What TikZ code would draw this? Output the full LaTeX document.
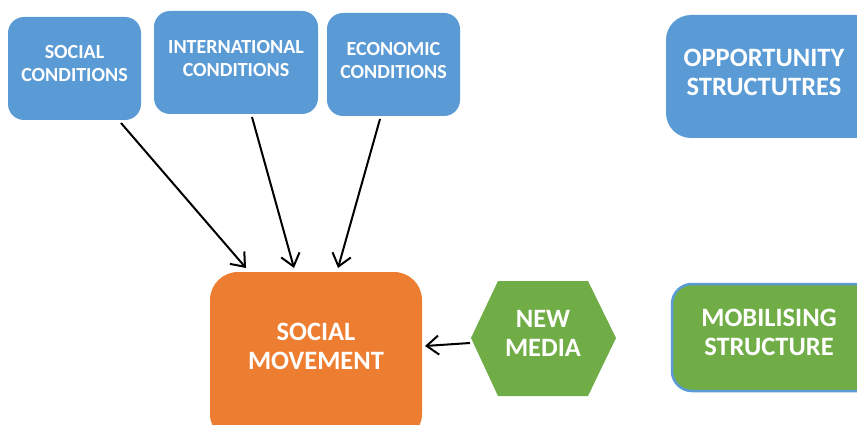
\documentclass[tikz,border=0pt]{standalone}
\usepackage{fontspec}
\setmainfont{Carlito}
\usetikzlibrary{arrows.meta}
\definecolor{cblue}{HTML}{5B9BD5}
\definecolor{corange}{HTML}{ED7D31}
\definecolor{cgreen}{HTML}{70AD47}
\begin{document}
\begin{tikzpicture}[x=1pt,y=-1pt,
  box/.style={fill=cblue,draw=none,rounded corners=16pt,inner sep=0pt},
  smalltxt/.style={text=white,align=center,font=\bfseries\fontsize{20}{23}\selectfont,inner sep=0pt},
  bigtxt/.style={text=white,align=center,font=\bfseries\fontsize{26.5}{29}\selectfont,inner sep=0pt},
  arr/.style={-{Straight Barb[length=12pt,width=19pt,line width=2pt]},line width=2pt,black}]
\clip (0,0) rectangle (857,425);
\fill[white] (0,0) rectangle (857,425);
% top boxes
\node[box,minimum width=133pt,minimum height=103pt] (sc) at (74.5,68.5) {};
\node[smalltxt] (sct) at (74.5,64) {SOCIAL\\CONDITIONS};
\node[box,minimum width=164pt,minimum height=103pt] (ic) at (236,62.5) {};
\node[smalltxt] (ict) at (236,58.5) {INTERNATIONAL\\CONDITIONS};
\node[box,minimum width=133pt,minimum height=103pt] (ec) at (393.5,64.5) {};
\node[smalltxt] (ect) at (393.5,60.5) {ECONOMIC\\CONDITIONS};
% opportunity
\node[box,rounded corners=25pt,minimum width=214pt,minimum height=123pt] (op) at (773,76.5) {};
\node[bigtxt] (opt) at (764,72) {OPPORTUNITY\\STRUCTUTRES};
% social movement
\node[fill=corange,draw=none,rounded corners=28pt,minimum width=212pt,minimum height=170pt,inner sep=0pt] (sm) at (316,357) {};
\node[bigtxt] (smt) at (316,346) {SOCIAL\\MOVEMENT};
% new media hexagon
\fill[cgreen] (471,338) -- (498,281) -- (588,281) -- (616,338) -- (588,396) -- (498,396) -- cycle;
\node[bigtxt] (nm) at (543,333.5) {NEW\\MEDIA};
% mobilising
\node[fill=cgreen,draw=cblue,line width=2.5pt,rounded corners=20pt,minimum width=208pt,minimum height=107pt,inner sep=0pt] (mb) at (776,337.5) {};
\node[bigtxt] (mbt) at (769,332) {MOBILISING\\STRUCTURE};
% connector end points
\coordinate (a1s) at (121,123);
\coordinate (a1e) at (246,268);
\coordinate (a2s) at (252,117);
\coordinate (a2e) at (294,268);
\coordinate (a3s) at (380,119);
\coordinate (a3e) at (338,268);
\coordinate (a4s) at (470,343);
\coordinate (a4e) at (425,346);
\draw[arr] (a1s) -- (a1e);
\draw[arr] (a2s) -- (a2e);
\draw[arr] (a3s) -- (a3e);
\draw[arr] (a4s) -- (a4e);
\end{tikzpicture}
\end{document}
